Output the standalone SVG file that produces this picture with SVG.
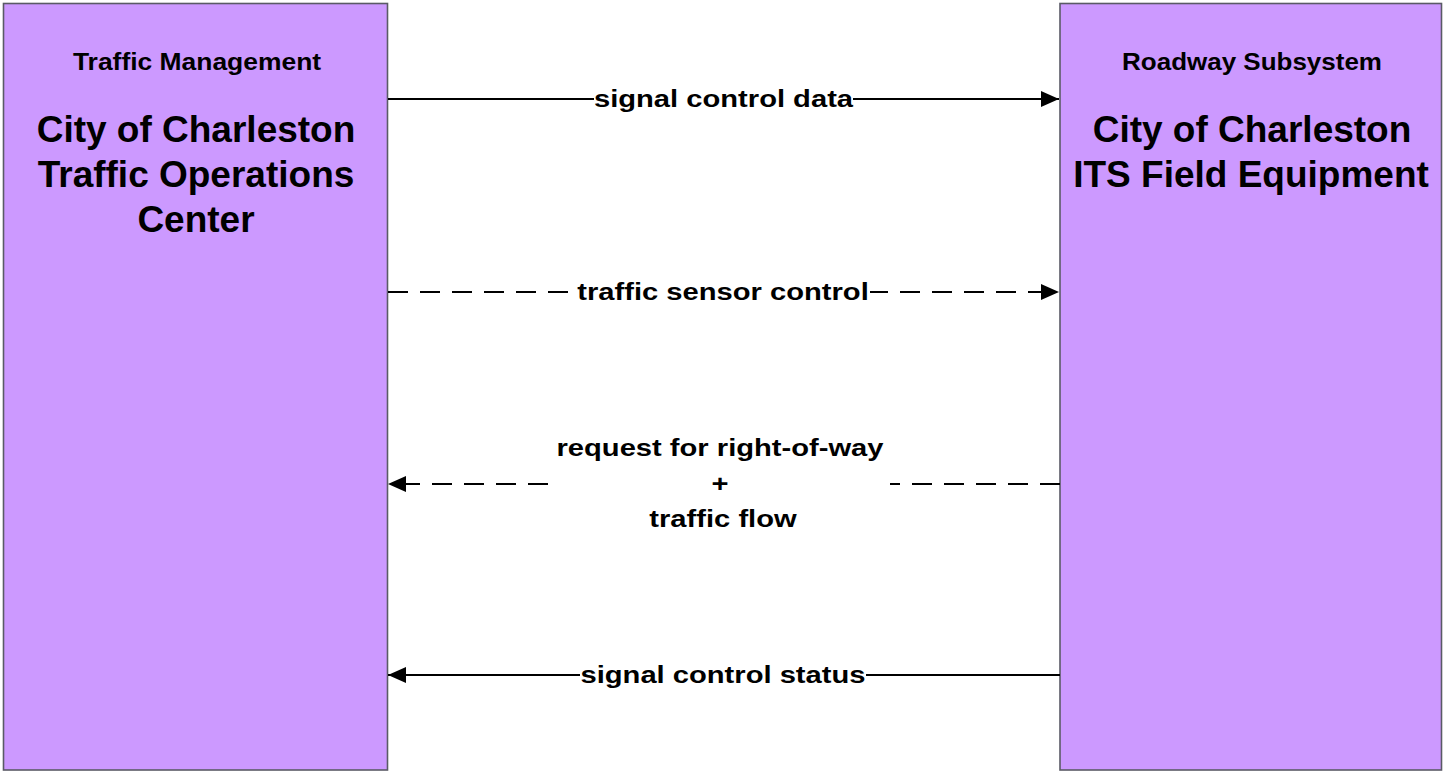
<svg xmlns="http://www.w3.org/2000/svg" width="1445" height="774" viewBox="0 0 1445 774">
<style>
.box{fill:#CC99FF;stroke:#5a5a66;stroke-width:1.6}
.sub{font-family:"Liberation Sans",Arial,sans-serif;font-weight:bold;font-size:23px;fill:#000;text-anchor:middle}
.ttl{font-family:"Liberation Sans",Arial,sans-serif;font-weight:bold;font-size:37px;fill:#000;text-anchor:middle}
.lbl{font-family:"Liberation Sans",Arial,sans-serif;font-weight:bold;font-size:24px;fill:#000;text-anchor:middle}
.ln{stroke:#000;stroke-width:2;fill:none}
.dash{stroke-dasharray:20,12}
.bg{fill:#fff}
</style>
<defs>
<marker id="ah" markerWidth="18" markerHeight="16" refX="18" refY="8" orient="auto" markerUnits="userSpaceOnUse">
<path d="M0,0 L18,8 L0,16 Z" fill="#000"/>
</marker>
</defs>
<g id="node-toc">
<rect class="box" x="3.5" y="3.5" width="384" height="766.5"/>
<text class="sub" transform="translate(197,70) scale(1.15,1)">Traffic Management</text>
<text class="ttl" x="196" y="142">City of Charleston</text>
<text class="ttl" x="196" y="187">Traffic Operations</text>
<text class="ttl" x="196" y="232">Center</text>
</g>
<g id="node-its">
<rect class="box" x="1060" y="3.5" width="381.5" height="766.5"/>
<text class="sub" transform="translate(1252,70) scale(1.13,1)">Roadway Subsystem</text>
<text class="ttl" x="1252" y="142">City of Charleston</text>
<text class="ttl" x="1251" y="187">ITS Field Equipment</text>
</g>
<g id="connectors">
<g id="c1">
<line class="ln" x1="388" y1="99" x2="1059" y2="99" marker-end="url(#ah)"/>
<rect class="bg" x="594" y="86" width="259" height="26"/>
<text class="lbl" transform="translate(723.5,107) scale(1.215,1)">signal control data</text>
</g>
<g id="c2">
<line class="ln dash" x1="388" y1="292" x2="1059" y2="292" marker-end="url(#ah)"/>
<rect class="bg" x="576" y="279" width="294" height="26"/>
<text class="lbl" transform="translate(723,300) scale(1.215,1)">traffic sensor control</text>
</g>
<g id="c3">
<line class="ln dash" x1="1060" y1="484" x2="388" y2="484" marker-end="url(#ah)"/>
<rect class="bg" x="550" y="470" width="340" height="28"/>
<text class="lbl" transform="translate(720,456) scale(1.215,1)">request for right-of-way</text>
<text class="lbl" transform="translate(720,492) scale(1.215,1)">+</text>
<text class="lbl" transform="translate(723,527) scale(1.215,1)">traffic flow</text>
</g>
<g id="c4">
<line class="ln" x1="1060" y1="675" x2="388" y2="675" marker-end="url(#ah)"/>
<rect class="bg" x="580" y="662" width="286" height="26"/>
<text class="lbl" transform="translate(723,683) scale(1.215,1)">signal control status</text>
</g>
</g>
</svg>
